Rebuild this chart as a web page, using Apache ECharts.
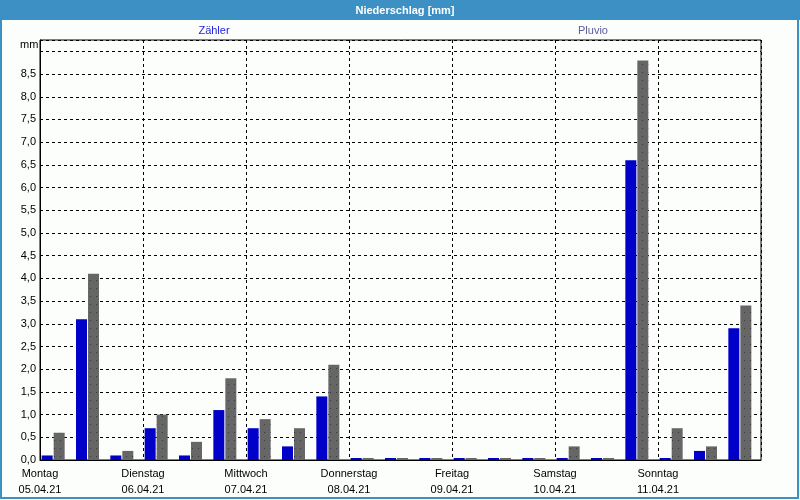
<!DOCTYPE html>
<html>
<head>
<meta charset="utf-8">
<script src="https://cdn.jsdelivr.net/npm/echarts@6/dist/echarts.min.js"></script>
<style>
html,body{margin:0;padding:0;background:#fcfefc;}
#c{width:800px;height:500px;}
</style>
</head>
<body>
<div id="c"></div>
<script>
// 8-hour intervals, Monday 05.04.21 00:00 .. Sunday 11.04.21 24:00
const slots = ['Mo 0-8','Mo 8-16','Mo 16-24','Di 0-8','Di 8-16','Di 16-24','Mi 0-8','Mi 8-16','Mi 16-24',
  'Do 0-8','Do 8-16','Do 16-24','Fr 0-8','Fr 8-16','Fr 16-24','Sa 0-8','Sa 8-16','Sa 16-24','So 0-8','So 8-16','So 16-24'];
const zaehler = [0.1, 3.1, 0.1, 0.7, 0.1, 1.1, 0.7, 0.3, 1.4, 0, 0, 0, 0, 0, 0, 0, 0, 6.6, 0, 0.2, 2.9];
const pluvio  = [0.6, 4.1, 0.2, 1.0, 0.4, 1.8, 0.9, 0.7, 2.1, 0, 0, 0, 0, 0, 0, 0.3, 0, 8.8, 0.7, 0.3, 3.4];
const dayNames = ['Montag','Dienstag','Mittwoch','Donnerstag','Freitag','Samstag','Sonntag'];
const dayDates = ['05.04.21','06.04.21','07.04.21','08.04.21','09.04.21','10.04.21','11.04.21'];
const yTicks = [0,0.5,1,1.5,2,2.5,3,3.5,4,4.5,5,5.5,6,6.5,7,7.5,8,8.5];

const FONT = 'Liberation Sans';
const chart = echarts.init(document.getElementById('c'), null, {renderer:'canvas'});
const dashed = {type:[3,3], color:'#000', width:1};
chart.setOption({
  backgroundColor:'#fcfefc',
  animation:false,
  textStyle:{fontFamily:FONT},
  title:[
    {text:'Niederschlag [mm]', left:400, top:0, textAlign:'center',
     textStyle:{color:'#fff', fontSize:11, fontWeight:'bold', fontFamily:FONT}},
    {text:'Zähler', left:209, top:20, textAlign:'center',
     textStyle:{color:'#2222dd', fontSize:11, fontWeight:'normal', fontFamily:FONT}},
    {text:'Pluvio', left:588, top:20, textAlign:'center',
     textStyle:{color:'#5c5ca0', fontSize:11, fontWeight:'normal', fontFamily:FONT}}
  ],
  graphic:[
    {type:'rect', z:-1, shape:{x:0,y:0,width:800,height:20}, style:{fill:'#3d90c4'}},
    {type:'rect', z:-1, shape:{x:1,y:1,width:797,height:497}, style:{fill:'none', stroke:'#3d90c4', lineWidth:2}},
    {type:'text', left:20, top:39, style:{text:'mm', fill:'#000', font:'11px "Liberation Sans"'}}
  ],
  grid:[
    {left:40, right:39, top:40, bottom:40, show:true, borderColor:'#000', borderWidth:1, backgroundColor:'transparent'},
    {left:36, right:43, top:40, bottom:40, show:false}
  ],
  xAxis:[
    {type:'value', gridIndex:0, min:0, max:7, interval:1,
     axisLine:{show:true, lineStyle:{color:'#000'}}, axisTick:{show:false},
     splitLine:{show:true, lineStyle:dashed},
     axisLabel:{margin:6, color:'#000', fontSize:11, lineHeight:16, fontFamily:FONT,
       formatter:v => (v < 7 ? dayNames[v] + '\n' + dayDates[v] : '')}},
    {type:'category', gridIndex:1, data:slots, show:false}
  ],
  yAxis:[
    {type:'value', gridIndex:0, min:0, max:9.25, interval:0.5,
     axisLine:{show:true, lineStyle:{color:'#000'}}, axisTick:{show:false},
     splitLine:{show:true, lineStyle:dashed},
     axisLabel:{margin:4, color:'#000', fontSize:11, fontFamily:FONT,
       formatter:v => (yTicks.indexOf(v) >= 0 ? v.toFixed(1).replace('.', ',') : '')}},
    {type:'value', gridIndex:1, min:0, max:9.25, show:false}
  ],
  series:[
    {name:'Zähler', type:'bar', xAxisIndex:1, yAxisIndex:1, data:zaehler,
     barWidth:11, barGap:'9%', barMinHeight:2, itemStyle:{color:'#0000c8'}},
    {name:'Pluvio', type:'bar', xAxisIndex:1, yAxisIndex:1, data:pluvio,
     barWidth:11, barMinHeight:2,
     itemStyle:{color:'#666666',
       decal:{symbol:'rect', symbolSize:1, color:'rgba(0,0,0,0.45)', dashArrayX:[1,5], dashArrayY:[1,7], rotation:0}}}
  ]
});
</script>
</body>
</html>
